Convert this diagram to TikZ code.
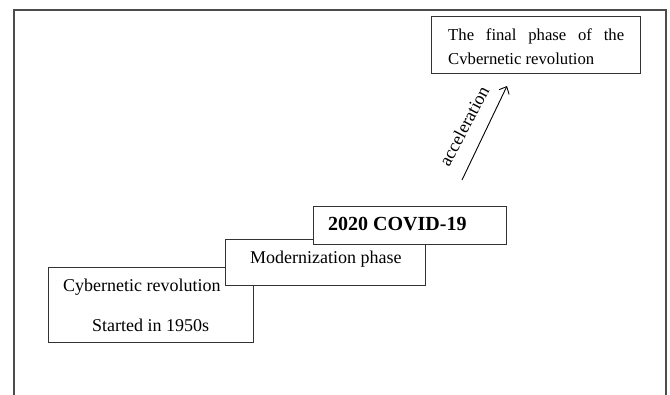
\documentclass[tikz,border=0pt]{standalone}
\usepackage{fontspec}
\setmainfont{Liberation Serif}
\usetikzlibrary{positioning,arrows.meta}

\begin{document}
\begin{tikzpicture}[x=1pt,y=-1pt,
    box/.style={rectangle, draw=black!80, line width=0.9pt, fill=white, inner sep=0pt},
    txt/.style={anchor=base west, inner sep=0pt, font=\fontsize{18}{20}\selectfont}]
   \useasboundingbox (0,0) rectangle (670,395);
   % outer frame, open at the bottom
   \draw[black!70, line width=1.2pt] (14,395) -- (14,10) -- (666,10) -- (666,395);

   % the steps
   \node[box, minimum width=205pt, minimum height=75pt] (cyber) at (150.5,304.5) {};
   \node[box, minimum width=200pt, minimum height=46pt] (modern) at (325,262) {};
   \node[box, minimum width=193pt, minimum height=38pt] (covid) at (409.5,225) {};
   \node[box, minimum width=209pt, minimum height=57pt] (final) at (535.5,44.5) {};

   \node[txt] (cyberrev) at (63,292) {Cybernetic revolution};
   \node[txt] (cyberstart) at (92,332) {Started in 1950s};
   \node[txt] (moderntxt) at (250,264) {Modernization phase};
   \node[txt, font=\fontsize{20}{22}\selectfont\bfseries] (covidtxt) at (328,231) {2020 COVID-19};
   \node[anchor=north west, inner sep=0pt, text width=176pt, align=justify,
         font=\fontsize{16.7}{24}\selectfont] (finaltxt) at (448,28.5)
         {The final phase of the Cvbernetic revolution};

   % acceleration arrow
   \coordinate (acctail) at (462,180);
   \coordinate (acchead) at (507,86);
   \draw[-{Straight Barb[length=6pt,width=11pt]}, line width=0.9pt] (acctail) -- (acchead);
   \node[rotate=62, inner sep=0pt, font=\fontsize{18}{20}\selectfont] (acclabel) at (464,126) {acceleration};
\end{tikzpicture}
\end{document}
